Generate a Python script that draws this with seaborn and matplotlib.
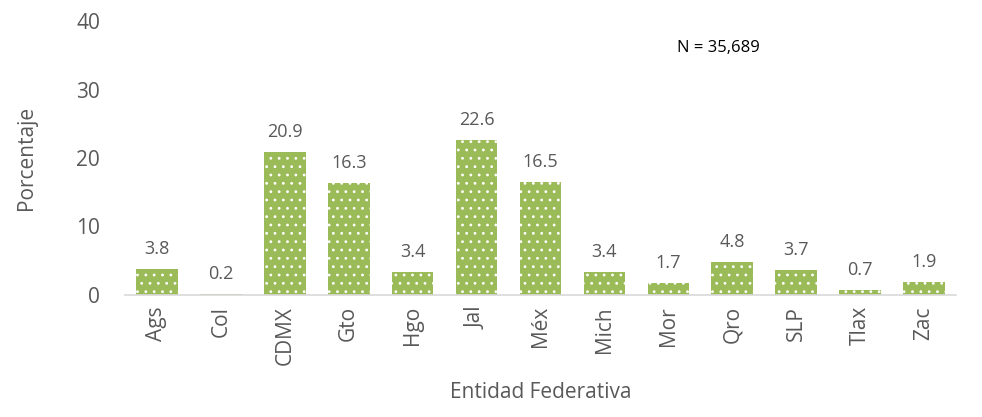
import matplotlib
matplotlib.use("Agg")
import matplotlib.pyplot as plt
import seaborn as sns
import pandas as pd

# data
estados = ['Ags', 'Col', 'CDMX', 'Gto', 'Hgo', 'Jal', 'Méx', 'Mich', 'Mor', 'Qro', 'SLP', 'Tlax', 'Zac']
porcentaje = [3.8, 0.2, 20.9, 16.3, 3.4, 22.6, 16.5, 3.4, 1.7, 4.8, 3.7, 0.7, 1.9]

df = pd.DataFrame({'estado': estados, 'pct': porcentaje})

sns.set_style('white')
plt.rcParams['font.family'] = ['Open Sans', 'DejaVu Sans']
plt.rcParams['hatch.linewidth'] = 0.8

gris = '#595959'
verde = '#9BBB59'

fig = plt.figure(figsize=(9.82, 4.17), dpi=100)
ax = fig.add_axes([125 / 982, 1 - 295 / 417, (956 - 125) / 982, (295 - 21) / 417])

sns.barplot(data=df, x='estado', y='pct', color=verde, width=0.65, saturation=1, ax=ax)
for p in ax.patches:
    p.set_hatch('..')
    p.set_edgecolor('white')
    p.set_linewidth(0)

for p, v in zip(ax.patches, porcentaje):
    ax.text(p.get_x() + p.get_width() / 2, v + 1.6, f'{v:.1f}', ha='center', va='bottom',
            fontsize=13, color=gris)

ax.set_ylim(0, 40)
ax.set_yticks([0, 10, 20, 30, 40])
ax.set_xlim(-0.5, len(estados) - 0.5)
ax.tick_params(axis='y', labelsize=15, colors=gris, length=0, pad=18)
ax.tick_params(axis='x', labelsize=15, colors=gris, length=0, rotation=90, pad=8)
ax.set_ylabel('Porcentaje', fontsize=15, color=gris, labelpad=28)
ax.set_xlabel('Entidad Federativa', fontsize=15, color=gris, labelpad=12)

for s in ['top', 'right', 'left']:
    ax.spines[s].set_visible(False)
ax.spines['bottom'].set_color('#D9D9D9')
ax.spines['bottom'].set_linewidth(1.2)

ax.text(0.714, 0.9, 'N = 35,689', transform=ax.transAxes, fontsize=12, color='black',
        ha='center', va='center')

fig.savefig('out.png', dpi=100)
